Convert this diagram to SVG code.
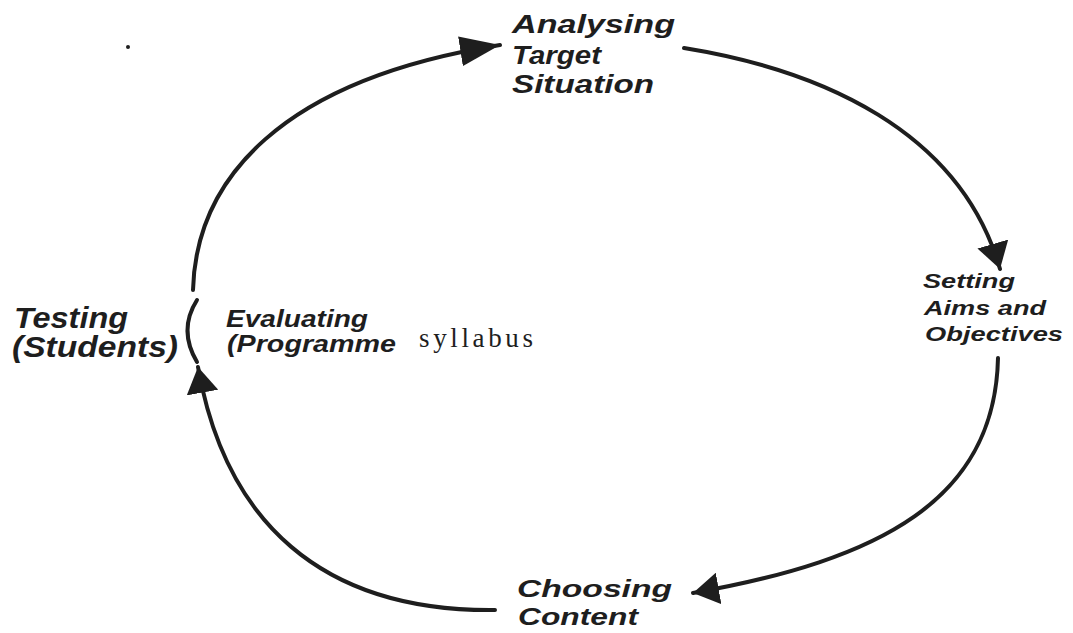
<svg xmlns="http://www.w3.org/2000/svg" width="1073" height="633" viewBox="0 0 1073 633">
<style>
.lbl{font-family:"Liberation Sans",Arial,sans-serif;font-weight:bold;font-style:italic;fill:#1e1e1e}
.ser{font-family:"Liberation Serif","Times New Roman",serif;fill:#1e1e1e}
.arc{fill:none;stroke:#1e1e1e;stroke-width:4;stroke-linecap:round}
</style>
<defs>
<marker id="ah" viewBox="0 0 26 32" refX="26" refY="16" markerWidth="26" markerHeight="32" markerUnits="userSpaceOnUse" orient="auto">
<path d="M0,0 L26,16 L0,32 z" fill="#1e1e1e"/>
</marker>
<marker id="ahBig" viewBox="0 0 40 30" refX="40" refY="15" markerWidth="40" markerHeight="30" markerUnits="userSpaceOnUse" orient="auto">
<path d="M0,0 L40,15 L0,30 z" fill="#1e1e1e"/>
</marker>
</defs>
<rect width="1073" height="633" fill="#ffffff"/>
<circle cx="128" cy="47" r="2" fill="#1e1e1e"/>
<g id="connectors">
<path class="arc" d="M193,290 C196,180 280,80 500,45" marker-end="url(#ahBig)"/>
<path class="arc" d="M684,48 C820,70 960,130 1000,269" marker-end="url(#ah)"/>
<path class="arc" d="M998,358 C995,500 880,560 693,593" marker-end="url(#ah)"/>
<path class="arc" d="M495,610 C320,612 225,520 198,367" marker-end="url(#ah)"/>
<path class="arc" d="M197,300 Q178,330 197,362"/>
</g>
<g id="node-analysing">
<text class="lbl" font-size="25" x="512" y="33" textLength="163" lengthAdjust="spacingAndGlyphs">Analysing</text>
<text class="lbl" font-size="25" x="512" y="64" textLength="89" lengthAdjust="spacingAndGlyphs">Target</text>
<text class="lbl" font-size="25" x="512" y="93" textLength="142" lengthAdjust="spacingAndGlyphs">Situation</text>
</g>
<g id="node-setting">
<text class="lbl" font-size="21" x="923" y="288" textLength="92" lengthAdjust="spacingAndGlyphs">Setting</text>
<text class="lbl" font-size="21" x="924" y="315" textLength="122" lengthAdjust="spacingAndGlyphs">Aims and</text>
<text class="lbl" font-size="21" x="925" y="341" textLength="138" lengthAdjust="spacingAndGlyphs">Objectives</text>
</g>
<g id="node-choosing">
<text class="lbl" font-size="23" x="517" y="597" textLength="155" lengthAdjust="spacingAndGlyphs">Choosing</text>
<text class="lbl" font-size="23" x="518" y="625" textLength="120" lengthAdjust="spacingAndGlyphs">Content</text>
</g>
<g id="node-testing">
<text class="lbl" font-size="29" x="14" y="328" textLength="114" lengthAdjust="spacingAndGlyphs">Testing</text>
<text class="lbl" font-size="29" x="12" y="357" textLength="166" lengthAdjust="spacingAndGlyphs">(Students)</text>
</g>
<g id="node-evaluating">
<text class="lbl" font-size="24" x="226" y="327" textLength="142" lengthAdjust="spacingAndGlyphs">Evaluating</text>
<text class="lbl" font-size="24" x="227" y="352" textLength="169" lengthAdjust="spacingAndGlyphs">(Programme</text>
<text class="ser" font-size="27" x="419" y="347" textLength="114" lengthAdjust="spacing">syllabus</text>
</g>
</svg>
